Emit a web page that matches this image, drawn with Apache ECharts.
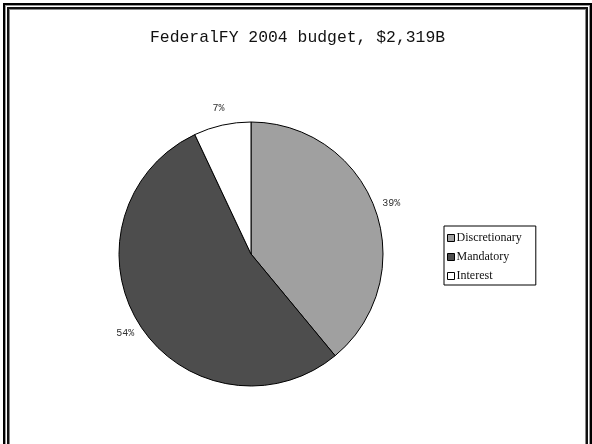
<!DOCTYPE html>
<html>
<head>
<meta charset="utf-8">
<script src="https://cdn.jsdelivr.net/npm/echarts@6/dist/echarts.min.js"></script>
<style>
  html, body { margin: 0; padding: 0; background: #fff; overflow: hidden; }
  #wrap { position: relative; width: 592px; height: 444px; overflow: hidden; }
  .frame-outer { position: absolute; left: 3px; top: 3px; width: 589px; height: 600px;
    box-sizing: border-box; border: 2px solid #000; box-shadow: inset 0 0 0 1px #999; }
  .frame-inner { position: absolute; left: 7px; top: 7px; width: 581px; height: 600px;
    box-sizing: border-box; border: 2px solid #111; box-shadow: inset 0 0 0 1px #888; }
  #chart { position: absolute; left: 0; top: 0; width: 592px; height: 444px; }
</style>
</head>
<body>
<div id="wrap">
  <div class="frame-outer"></div>
  <div class="frame-inner"></div>
  <div id="chart"></div>
</div>
<script>
// Budget shares, percent of total outlays
const titleText = 'FederalFY 2004 budget, $2,319B';
const categories = ['Discretionary', 'Mandatory', 'Interest'];
const shares = [39, 54, 7];
const sliceColors = ['#a0a0a0', '#4d4d4d', '#ffffff'];

const pieCenter = [251, 254];
const pieRadius = 132;

const sliceData = categories.map((name, i) => ({
  name: name,
  value: shares[i],
  itemStyle: { color: sliceColors[i] }
}));

const chart = echarts.init(document.getElementById('chart'), null, { renderer: 'canvas' });
chart.setOption({
  backgroundColor: 'transparent',
  animation: false,
  title: {
    text: titleText,
    left: 145,
    top: 25,
    textStyle: { fontFamily: 'Liberation Mono', fontSize: 16.4, fontWeight: 'normal', color: '#111' }
  },
  legend: {
    orient: 'vertical',
    left: 444,
    top: 226,
    padding: [6, 14, 3, 3],
    itemGap: 7,
    itemWidth: 7,
    itemHeight: 7,
    icon: 'rect',
    borderColor: '#000',
    borderWidth: 1,
    itemStyle: { borderColor: '#000', borderWidth: 1 },
    textStyle: { fontFamily: 'Liberation Serif', fontSize: 12, color: '#111', padding: [0, 0, 0, -3] },
    data: categories
  },
  series: [
    {
      type: 'pie',
      center: pieCenter,
      radius: pieRadius,
      startAngle: 90,
      clockwise: true,
      silent: true,
      itemStyle: { borderColor: '#000', borderWidth: 1 },
      label: { show: false },
      labelLine: { show: false },
      data: sliceData
    },
    {
      // invisible ring that carries the percent labels just outside the pie
      type: 'pie',
      center: pieCenter,
      radius: [pieRadius + 4, pieRadius + 24],
      startAngle: 90,
      clockwise: true,
      silent: true,
      itemStyle: { color: 'rgba(0,0,0,0)', borderWidth: 0 },
      label: {
        show: true,
        position: 'inside',
        formatter: '{c}%',
        fontFamily: 'Liberation Mono',
        fontSize: 10,
        color: '#333'
      },
      labelLine: { show: false },
      data: categories.map((name, i) => ({ name: name, value: shares[i] }))
    }
  ]
});
</script>
</body>
</html>
